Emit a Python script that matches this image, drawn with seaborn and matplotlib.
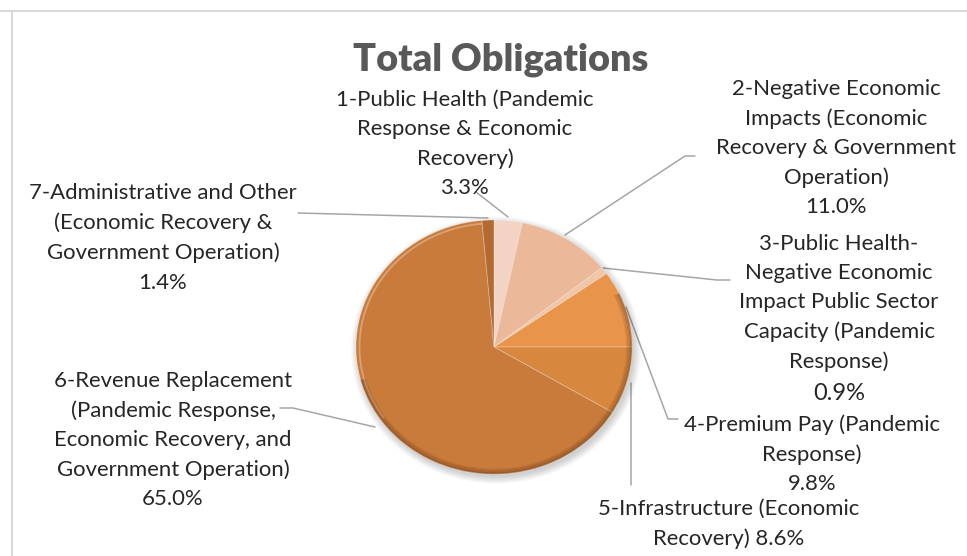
import matplotlib.pyplot as plt
from matplotlib.lines import Line2D
from matplotlib.patches import Arc, Ellipse
import seaborn as sns

# data
categories = [
    "1-Public Health (Pandemic\nResponse & Economic\nRecovery)",
    "2-Negative Economic\nImpacts (Economic\nRecovery & Government\nOperation)",
    "3-Public Health-\nNegative Economic\nImpact Public Sector\nCapacity (Pandemic\nResponse)",
    "4-Premium Pay (Pandemic\nResponse)",
    "5-Infrastructure (Economic\nRecovery)",
    "6-Revenue Replacement\n(Pandemic Response,\nEconomic Recovery, and\nGovernment Operation)",
    "7-Administrative and Other\n(Economic Recovery &\nGovernment Operation)",
]
shares = [3.3, 11.0, 0.9, 9.8, 8.6, 65.0, 1.4]
pct_sep = ["\n", "\n", "\n", "\n", " ", "\n", "\n"]

colors = ["#F3D3C4", "#EBB89A", "#F0C6A6", "#E8944A", "#D8873F", "#C97B3C", "#B36B31"]

sns.set_theme(style="white")
plt.rcParams['font.family'] = ['Lato', 'DejaVu Sans']

W, H = 967, 556
fig = plt.figure(figsize=(W / 100, H / 100), dpi=100)

# overlay in pixel coords for labels, leaders and frame
ov = fig.add_axes([0, 0, 1, 1], zorder=0)
ov.set_xlim(0, W)
ov.set_ylim(H, 0)
ov.axis('off')

# pie area (slightly elliptical like the original)
cx, cy, rx, ry = 494, 347, 138, 127
ax = fig.add_axes([(cx - rx) / W, 1 - (cy + ry) / H, 2 * rx / W, 2 * ry / H], zorder=1)

# soft shadow behind the pie
for k in range(6):
    ax.add_patch(Ellipse((0.015, -0.025), 2.0 + 0.02 * k, 2.0 + 0.02 * k,
                         facecolor="black", alpha=0.03, lw=0, zorder=0, clip_on=False))

wedges, _ = ax.pie(shares, colors=colors, startangle=90, counterclock=False,
                   wedgeprops=dict(linewidth=0.6, edgecolor=(1, 1, 1, 0.3)))
for w in wedges:
    w.set_zorder(2)
    w.set_clip_on(False)

# bevel: light rim on the upper left, darker band on the lower right
ax.add_patch(Arc((0, 0), 1.95, 1.95, theta1=95, theta2=215,
                 color="white", alpha=0.3, lw=1.3, zorder=3, clip_on=False))
for k, a in enumerate([0.10, 0.14, 0.2, 0.28]):
    d = 1.93 + 0.02 * k
    ax.add_patch(Arc((0, 0), d, d, theta1=-165, theta2=25,
                     color="#4a2408", alpha=a, lw=1.4, zorder=3, clip_on=False))

ax.set_xlim(-1, 1)
ax.set_ylim(-1, 1)
ax.set_aspect('auto')
ax.axis('off')

# frame
ov.add_line(Line2D([12, 12], [11, H], color="#D9D9D9", lw=1.5))
ov.add_line(Line2D([0, W], [11, 11], color="#D9D9D9", lw=1.5))

ov.text(501, 60, "Total Obligations", ha='center', va='center',
        fontsize=27.3, fontweight='heavy', color="#595959")

# label centres (px) and leader paths
label_pos = [(465, 144), (836, 148), (839, 303), (812, 454), (729, 524), (173, 440), (163, 238)]
leaders = [
    [(476, 192), (508, 217)],
    [(695, 156), (685, 156), (565, 235)],
    [(730, 280), (717, 280), (603, 268)],
    [(678, 419), (668, 419), (626, 307)],
    [(631, 485), (631, 383)],
    [(280, 408), (293, 408), (375, 427)],
    [(298, 213), (488, 218)],
]

for i, (lab, val) in enumerate(zip(categories, shares)):
    x, y = label_pos[i]
    if i == 2:
        txt = lab
        ov.text(x, 393, f"{val:.1f}%", ha='center', va='center', fontsize=17, color="#262626")
    else:
        txt = f"{lab}{pct_sep[i]}{val:.1f}%"
    ov.text(x, y, txt, ha='center', va='center', multialignment='center',
            fontsize=15.9, color="#262626", linespacing=1.57)
    xs, ys = zip(*leaders[i])
    ov.add_line(Line2D(xs, ys, color="#A6A6A6", lw=1.1))

fig.savefig("out.png", dpi=100, facecolor="white")
